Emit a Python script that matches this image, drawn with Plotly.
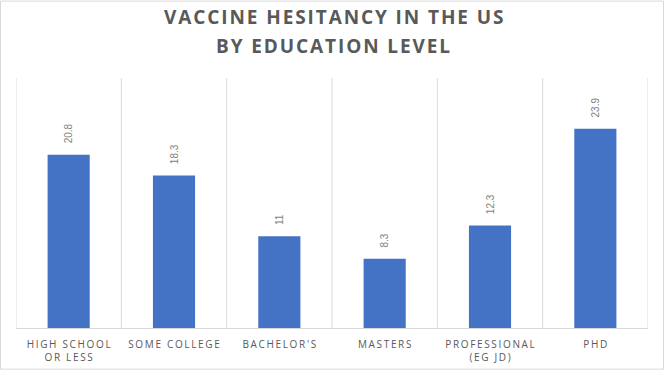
import plotly.graph_objects as go

categories = ["HIGH SCHOOL<br>OR LESS", "SOME COLLEGE", "BACHELOR'S", "MASTERS", "PROFESSIONAL<br>(EG JD)", "PHD"]
values = [20.8, 18.3, 11, 8.3, 12.3, 23.9]
labels = ["20.8", "18.3", "11", "8.3", "12.3", "23.9"]
title_lines = ["VACCINE HESITANCY IN THE US", "BY EDUCATION LEVEL"]

W, H = 668, 376
L, R, T, B = 16, 20, 78, 46
PW, PH = W - L - R, H - T - B


def spaced(s, sp):
    parts = s.split("<br>")
    return "<br>".join(sp.join(list(p)) for p in parts)


fig = go.Figure()
fig.add_trace(go.Bar(
    x=list(range(len(categories))),
    y=values,
    text=labels,
    texttemplate="\u00a0\u00a0\u00a0%{text}",
    textposition="outside",
    textangle=-90,
    textfont=dict(size=10, color="#7f7f7f", family="Liberation Sans"),
    marker=dict(color="#4472C4", line=dict(width=0)),
    width=0.4,
    cliponaxis=False,
    hoverinfo="x+y",
))

fig.update_layout(
    width=W, height=H,
    margin=dict(l=L, r=R, t=T, b=B),
    paper_bgcolor="white", plot_bgcolor="white",
    showlegend=False,
    xaxis=dict(
        tickmode="array",
        tickvals=list(range(len(categories))),
        ticktext=[spaced(c, "\u2009") for c in categories],
        range=[-0.5, len(categories) - 0.5],
        showgrid=False,
        showline=True, linecolor="#d9d9d9", linewidth=1,
        ticks="", ticklen=0,
        ticklabelstandoff=7,
        tickfont=dict(size=10, color="#595959", family="Open Sans"),
    ),
    yaxis=dict(range=[0, 30], visible=False),
)

# category boundary lines
for i in range(len(categories) + 1):
    fig.add_shape(type="line", xref="x", yref="paper",
                  x0=i - 0.5, x1=i - 0.5, y0=0, y1=1,
                  line=dict(color="#d9d9d9", width=1), layer="below")

# title lines
for txt, ypx in zip(title_lines, [16.5, 46]):
    fig.add_annotation(
        text=spaced(txt, "\u200a"), xref="paper", yref="paper",
        x=(333 - L) / PW, y=1 + (T - ypx) / PH,
        showarrow=False, xanchor="center", yanchor="middle",
        font=dict(size=19, color="#595959", family="Open Sans", weight="bold"),
    )

# outer border
fig.add_shape(type="rect", xref="paper", yref="paper",
              x0=(0.5 - L) / PW, x1=(663.5 - L) / PW,
              y0=-(371.5 - (H - B)) / PH, y1=1 + (T - 0.5) / PH,
              line=dict(color="#d9d9d9", width=1))

fig.write_html("out.html", config={"displayModeBar": False},
               post_script="document.body.style.margin='0px';")
